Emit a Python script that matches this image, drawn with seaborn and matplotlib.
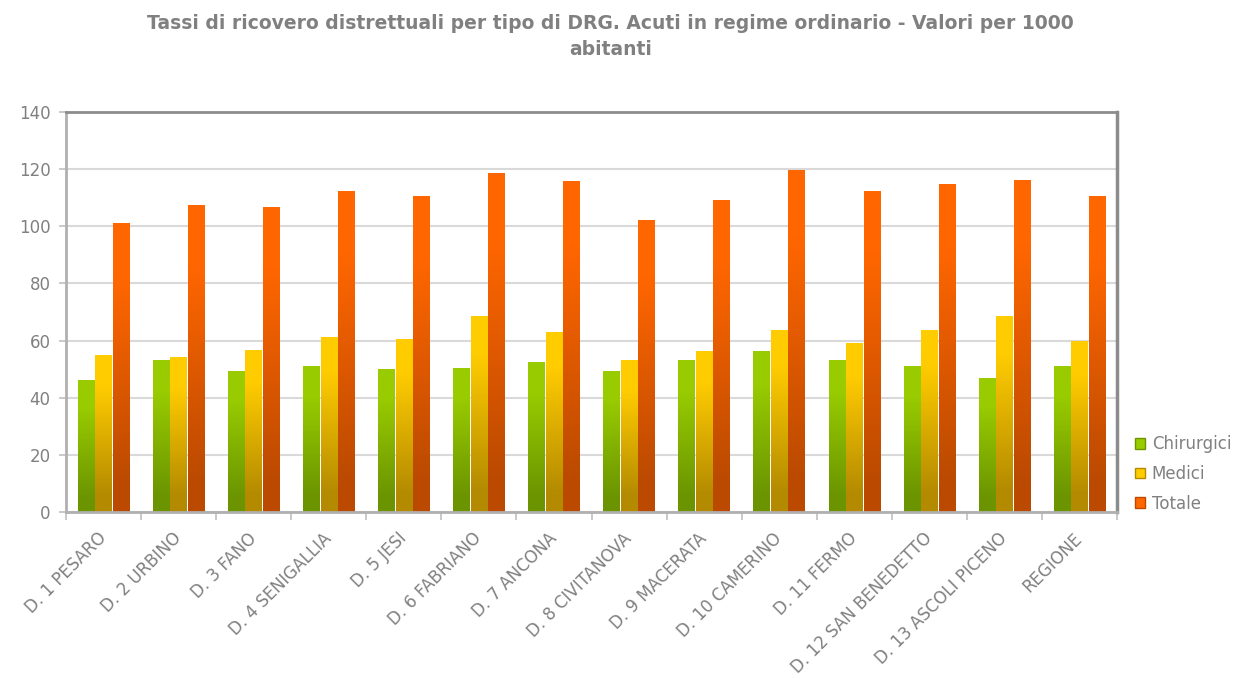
import numpy as np
import pandas as pd
import matplotlib
matplotlib.use("Agg")
import matplotlib.pyplot as plt
import seaborn as sns
from matplotlib.colors import to_rgb
from matplotlib.patches import Patch

districts = ["D. 1 PESARO", "D. 2 URBINO", "D. 3 FANO", "D. 4 SENIGALLIA", "D. 5 JESI",
             "D. 6 FABRIANO", "D. 7 ANCONA", "D. 8 CIVITANOVA", "D. 9 MACERATA",
             "D. 10 CAMERINO", "D. 11 FERMO", "D. 12 SAN BENEDETTO", "D. 13 ASCOLI PICENO",
             "REGIONE"]
chirurgici = [46.2, 53.2, 49.4, 51.1, 50.1, 50.4, 52.5, 49.4, 53.2, 56.4, 53.2, 51.1, 46.9, 51.1]
medici = [55.0, 54.3, 56.7, 61.3, 60.6, 68.7, 63.1, 53.2, 56.4, 63.8, 59.2, 63.8, 68.7, 59.9]
totale = [101.3, 107.6, 106.9, 112.5, 110.7, 118.8, 115.7, 102.3, 109.3, 119.8, 112.5, 114.9, 116.3, 110.7]
series = ["Chirurgici", "Medici", "Totale"]
yticks = [0, 20, 40, 60, 80, 100, 120, 140]
title = "Tassi di ricovero distrettuali per tipo di DRG. Acuti in regime ordinario - Valori per 1000\nabitanti"

top_colors = {"Chirurgici": "#99CC00", "Medici": "#FFCC00", "Totale": "#FF6600"}
bot_colors = {"Chirurgici": "#6B9400", "Medici": "#B38A00", "Totale": "#BB4A00"}

df = pd.DataFrame({
    "Distretto": districts * 3,
    "Serie": sum([[s] * len(districts) for s in series], []),
    "Valore": chirurgici + medici + totale,
})

sns.set_theme(style="white")
plt.rcParams["font.family"] = ["DejaVu Sans"]
gray = "#808080"

fig = plt.figure(figsize=(12.34, 6.79), dpi=100)
ax = fig.add_axes([66 / 1234, 1 - 512 / 679, (1117 - 66) / 1234, (512 - 112) / 679])

sns.barplot(data=df, x="Distretto", y="Valore", hue="Serie", hue_order=series,
            palette=[top_colors[s] for s in series], width=0.70, gap=0.06, ax=ax,
            legend=False, linewidth=0, errorbar=None)

ax.set_xlim(-0.5, len(districts) - 0.5)
ax.set_ylim(0, 140)

# gradient fill per bar, clipped to each bar
n = len(districts)
for i, p in enumerate(ax.patches[: 3 * n]):
    s = series[i // n]
    c1 = np.array(to_rgb(top_colors[s]))
    c2 = np.array(to_rgb(bot_colors[s]))
    t = np.linspace(0, 1, 200)
    f = np.clip((t - 0.2) / 0.7, 0, 1)[:, None]
    grad = (c1 * (1 - f) + c2 * f)[:, None, :]
    x0, y0 = p.get_x(), p.get_y()
    w, h = p.get_width(), p.get_height()
    im = ax.imshow(grad, extent=(x0, x0 + w, y0, y0 + h), aspect="auto", origin="upper",
                   zorder=p.get_zorder(), interpolation="bilinear")
    im.set_clip_path(p)
    p.set_facecolor("none")
    p.set_linewidth(0)

ax.set_xlim(-0.5, len(districts) - 0.5)
ax.set_ylim(0, 140)
ax.set_yticks(yticks)
ax.yaxis.grid(True, color="#d9d9d9", linewidth=1.5)
ax.set_axisbelow(True)

ax.set_xlabel("")
ax.set_ylabel("")
ax.set_xticks(range(n))
ax.set_xticklabels(districts, rotation=45, ha="right", va="center", rotation_mode="anchor",
                   fontsize=12, color=gray)
ax.set_xticks(np.arange(-0.5, n, 1.0), minor=True)
ax.tick_params(axis="x", which="major", length=0, pad=17)
ax.tick_params(axis="x", which="minor", length=6, width=1.2, color="#c0c0c0", bottom=True)
ax.tick_params(axis="y", length=5, width=1.2, color="#c0c0c0", labelsize=12,
               labelcolor=gray, left=True, pad=6)

ax.spines["left"].set_color("#b0b0b0")
ax.spines["left"].set_linewidth(2)
ax.spines["bottom"].set_color("#b0b0b0")
ax.spines["bottom"].set_linewidth(2)
ax.spines["top"].set_color("#8c8c8c")
ax.spines["top"].set_linewidth(2)
ax.spines["right"].set_color("#8c8c8c")
ax.spines["right"].set_linewidth(2.5)

fig.suptitle(title, fontsize=13.5, fontweight="bold", color=gray, x=0.495, y=0.98,
             linespacing=1.5)

handles = [Patch(facecolor=top_colors[s], edgecolor=bot_colors[s]) for s in series]
fig.legend(handles, series, loc="center left", bbox_to_anchor=(1120 / 1234, 1 - 474 / 679),
           frameon=False, fontsize=12, labelcolor=gray, handlelength=0.6, handleheight=0.6,
           handletextpad=0.4, labelspacing=0.7)

fig.savefig("out.png", dpi=100)
